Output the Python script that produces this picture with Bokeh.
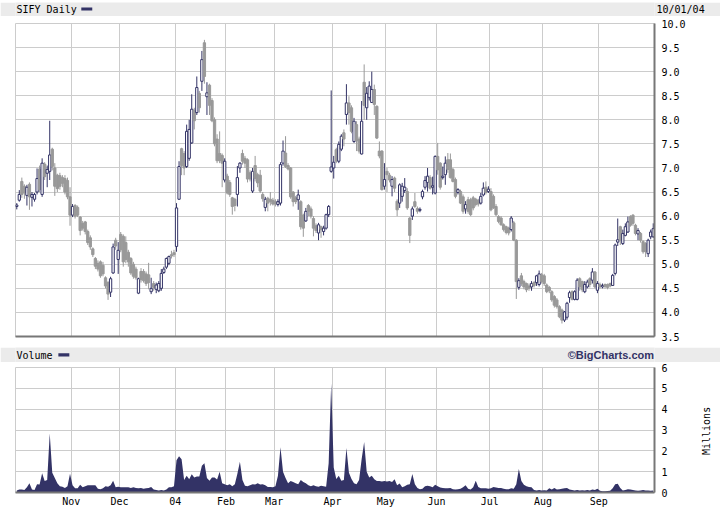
import math
import numpy as np
from bokeh.plotting import figure
from bokeh.layouts import column
from bokeh.models import (Range1d, FixedTicker, PrintfTickFormatter, Label, ColumnDataSource,
                          LinearAxis, Spacer)
from bokeh.embed import file_html
from bokeh.resources import INLINE

# ---------------- data ----------------
month_labels = ["Nov", "Dec", "04", "Feb", "Mar", "Apr", "May", "Jun", "Jul", "Aug", "Sep"]
month_start_idx = [22, 41, 63, 83, 102, 125, 146, 166, 187, 208, 230]
price_ticks = [3.5, 4.0, 4.5, 5.0, 5.5, 6.0, 6.5, 7.0, 7.5, 8.0, 8.5, 9.0, 9.5, 10.0]
vol_ticks = [0, 1, 2, 3, 4, 5, 6]

open_ = [
    6.20, 6.33, 6.72, 6.62, 6.43, 6.66, 6.39, 6.35, 6.50, 6.98,
    6.45, 7.08, 6.89, 6.93, 7.39, 7.00, 6.85, 6.84, 6.80, 6.78,
    6.74, 6.40, 6.02, 6.22, 6.18, 5.98, 5.85, 5.88, 5.68, 5.55,
    5.32, 5.12, 5.02, 5.05, 4.98, 4.72, 4.62, 4.42, 4.82, 5.50,
    5.10, 5.62, 5.58, 5.45, 5.25, 5.12, 5.00, 4.90, 4.40, 4.85,
    4.85, 4.80, 4.78, 4.43, 4.60, 4.48, 4.45, 4.50, 4.83, 4.94,
    5.02, 5.20, 5.24, 5.37, 6.35, 7.40, 7.30, 7.03, 7.20, 7.52,
    8.20, 8.15, 8.55, 8.80, 9.60, 8.48, 8.72, 8.40, 8.00, 7.60,
    7.30, 7.26, 6.75, 6.83, 6.70, 6.38, 6.35, 6.45, 7.00, 7.30,
    7.20, 7.17, 6.90, 6.52, 7.05, 6.86, 6.85, 6.45, 6.18, 6.37,
    6.35, 6.33, 6.30, 6.24, 6.27, 7.10, 7.31, 7.05, 7.00, 6.50,
    6.38, 6.34, 6.30, 6.02, 5.90, 6.22, 6.15, 5.95, 5.80, 5.65,
    5.78, 5.68, 5.75, 6.03, 6.93, 7.00, 7.38, 7.14, 7.39, 7.73,
    8.11, 8.35, 8.25, 7.55, 7.90, 7.60, 7.29, 8.78, 8.25, 8.46,
    8.36, 8.63, 8.28, 7.35, 7.35, 6.62, 6.93, 6.85, 6.62, 6.79,
    6.31, 6.27, 6.41, 6.53, 6.51, 5.96, 6.00, 6.30, 6.16, 6.12,
    6.40, 6.60, 6.70, 6.80, 6.60, 6.48, 7.24, 7.10, 6.80, 6.86,
    7.17, 7.17, 6.97, 6.76, 6.49, 6.51, 6.40, 6.15, 6.34, 6.34,
    6.38, 6.35, 6.33, 6.27, 6.44, 6.60, 6.51, 6.51, 6.41, 6.20,
    5.99, 5.96, 5.82, 5.78, 5.75, 5.72, 5.86, 5.50, 4.52, 4.76,
    4.64, 4.60, 4.55, 4.53, 4.62, 4.62, 4.58, 4.78, 4.76, 4.57,
    4.52, 4.43, 4.33, 4.26, 4.12, 4.05, 3.84, 3.90, 4.31, 4.43,
    4.27, 4.27, 4.70, 4.64, 4.43, 4.53, 4.70, 4.67, 4.84, 4.46,
    4.58, 4.53, 4.58, 4.58, 4.60, 4.56, 4.81, 5.46, 5.78, 5.43,
    5.60, 5.67, 5.99, 6.02, 5.81, 5.63, 5.64, 5.47, 5.43, 5.22,
    5.57, 5.57,
]
high = [
    6.27, 6.54, 6.80, 6.66, 6.65, 6.70, 6.50, 6.48, 6.99, 7.05,
    7.20, 7.12, 7.05, 7.98, 7.42, 7.10, 6.88, 6.90, 6.85, 6.85,
    6.80, 6.60, 6.25, 6.25, 6.22, 6.00, 5.90, 5.90, 5.72, 5.60,
    5.35, 5.15, 5.08, 5.08, 5.05, 4.75, 4.65, 4.74, 5.43, 5.55,
    5.46, 5.67, 5.62, 5.58, 5.30, 5.15, 5.05, 4.95, 4.72, 4.92,
    4.90, 4.85, 5.03, 4.72, 4.65, 4.62, 4.65, 4.90, 4.95, 5.14,
    5.18, 5.28, 5.30, 6.27, 7.14, 7.42, 7.35, 7.90, 8.00, 8.53,
    8.25, 8.90, 8.60, 9.43, 9.66, 8.78, 8.75, 8.45, 8.05, 7.70,
    7.76, 7.30, 7.20, 6.88, 6.75, 6.40, 6.38, 7.04, 7.12, 7.38,
    7.25, 7.20, 6.95, 7.00, 7.25, 6.90, 6.96, 6.50, 6.40, 6.40,
    6.50, 6.38, 6.35, 6.35, 7.12, 7.57, 7.66, 7.10, 7.02, 6.52,
    6.42, 6.55, 6.33, 6.05, 6.17, 6.25, 6.20, 6.00, 5.85, 5.86,
    5.80, 5.80, 6.05, 6.23, 8.61, 7.25, 7.42, 7.55, 7.70, 7.80,
    8.74, 8.49, 8.30, 8.04, 7.97, 7.65, 8.39, 9.15, 8.68, 8.80,
    9.00, 8.73, 8.30, 7.55, 7.37, 7.10, 7.00, 6.90, 6.83, 6.82,
    6.35, 6.68, 6.69, 6.79, 6.58, 5.98, 6.20, 6.48, 6.20, 6.18,
    6.55, 6.83, 7.00, 6.85, 6.82, 7.26, 7.52, 7.12, 7.03, 7.24,
    7.31, 7.30, 7.00, 6.80, 6.58, 6.55, 6.45, 6.31, 6.40, 6.38,
    6.42, 6.38, 6.36, 6.48, 6.70, 6.72, 6.62, 6.58, 6.45, 6.25,
    6.02, 6.00, 5.85, 5.80, 5.78, 6.00, 5.90, 5.52, 4.71, 4.82,
    4.68, 4.62, 4.60, 4.65, 4.65, 4.78, 4.87, 4.82, 4.80, 4.60,
    4.55, 4.46, 4.36, 4.30, 4.15, 4.08, 4.03, 4.22, 4.45, 4.46,
    4.46, 4.71, 4.73, 4.66, 4.65, 4.68, 4.73, 4.92, 4.86, 4.65,
    4.62, 4.60, 4.60, 4.60, 4.62, 4.80, 5.43, 5.95, 5.80, 5.72,
    5.85, 5.99, 6.02, 6.04, 5.84, 5.75, 5.67, 5.50, 5.46, 5.53,
    5.72, 5.85,
]
low = [
    6.14, 6.30, 6.38, 6.36, 6.22, 6.13, 6.20, 6.30, 6.45, 6.50,
    6.40, 6.75, 6.60, 6.75, 6.95, 6.42, 6.50, 6.55, 6.60, 6.45,
    6.35, 5.80, 5.98, 5.95, 5.98, 5.60, 5.70, 5.62, 5.40, 5.30,
    5.15, 4.90, 4.85, 4.72, 4.75, 4.50, 4.26, 4.32, 4.80, 5.30,
    4.80, 5.25, 4.95, 5.02, 4.95, 4.78, 4.70, 4.68, 4.38, 4.62,
    4.62, 4.55, 4.48, 4.38, 4.45, 4.40, 4.42, 4.45, 4.80, 4.90,
    4.98, 5.12, 5.15, 5.26, 6.34, 6.85, 6.85, 7.00, 7.15, 7.50,
    7.80, 8.10, 8.15, 8.60, 8.75, 8.10, 8.10, 7.95, 7.45, 7.10,
    7.10, 6.60, 6.70, 6.45, 6.40, 6.03, 6.10, 6.20, 6.90, 7.07,
    7.00, 6.70, 6.72, 6.48, 6.72, 6.60, 6.48, 6.30, 6.10, 6.10,
    6.22, 6.22, 6.20, 6.20, 6.22, 7.05, 7.00, 6.95, 6.36, 6.20,
    6.25, 6.13, 5.72, 5.57, 5.88, 6.00, 5.95, 5.58, 5.65, 5.50,
    5.55, 5.60, 5.72, 5.98, 6.90, 6.78, 7.10, 7.10, 7.35, 7.45,
    7.90, 7.90, 7.72, 7.52, 7.35, 7.30, 7.28, 8.00, 8.00, 8.40,
    8.35, 8.10, 7.60, 7.20, 6.53, 6.55, 6.50, 6.70, 6.41, 6.50,
    6.00, 6.17, 6.30, 6.48, 6.13, 5.44, 5.92, 6.17, 6.05, 6.08,
    6.35, 6.55, 6.51, 6.55, 6.45, 6.45, 6.86, 6.55, 6.76, 6.65,
    6.90, 6.78, 6.70, 6.37, 6.45, 6.25, 6.05, 6.05, 6.05, 6.00,
    6.12, 6.20, 6.20, 6.24, 6.41, 6.45, 6.48, 6.10, 6.15, 6.00,
    5.85, 5.80, 5.68, 5.62, 5.60, 5.68, 5.48, 4.28, 4.47, 4.55,
    4.48, 4.42, 4.45, 4.45, 4.52, 4.55, 4.54, 4.60, 4.55, 4.40,
    4.40, 4.22, 4.10, 4.08, 3.88, 3.77, 3.80, 3.85, 4.20, 4.25,
    4.25, 4.25, 4.45, 4.42, 4.40, 4.50, 4.52, 4.60, 4.50, 4.40,
    4.50, 4.50, 4.50, 4.48, 4.52, 4.55, 4.77, 5.38, 5.40, 5.40,
    5.58, 5.65, 5.78, 5.80, 5.60, 5.50, 5.45, 5.22, 5.15, 5.15,
    5.52, 5.55,
]
close = [
    6.23, 6.45, 6.45, 6.48, 6.60, 6.40, 6.45, 6.45, 6.78, 6.55,
    7.10, 6.82, 6.97, 7.27, 7.03, 6.62, 6.57, 6.62, 6.68, 6.50,
    6.40, 6.02, 6.20, 6.00, 6.02, 5.70, 5.75, 5.68, 5.45, 5.36,
    5.20, 4.96, 4.90, 4.76, 4.80, 4.55, 4.38, 4.70, 5.36, 5.38,
    5.29, 5.30, 5.05, 5.10, 5.05, 4.82, 4.75, 4.72, 4.70, 4.68,
    4.66, 4.60, 4.62, 4.50, 4.52, 4.57, 4.60, 4.81, 4.90, 5.12,
    5.16, 5.17, 5.20, 6.17, 7.03, 7.05, 7.00, 7.76, 7.80, 8.22,
    7.98, 8.67, 8.25, 9.25, 8.90, 8.56, 8.30, 7.98, 7.50, 7.15,
    7.15, 7.10, 7.14, 6.48, 6.45, 6.20, 6.22, 6.80, 7.10, 7.14,
    7.10, 6.77, 6.77, 6.93, 6.78, 6.69, 6.52, 6.36, 6.35, 6.27,
    6.30, 6.25, 6.25, 6.30, 7.07, 7.35, 7.03, 6.98, 6.40, 6.30,
    6.30, 6.44, 5.78, 5.75, 6.10, 6.10, 6.00, 5.75, 5.70, 5.82,
    5.72, 5.75, 6.03, 6.20, 7.02, 7.12, 7.14, 7.49, 7.66, 7.60,
    8.35, 8.15, 7.76, 7.97, 7.56, 7.35, 7.97, 8.30, 8.55, 8.70,
    8.63, 8.32, 7.62, 7.25, 6.55, 6.76, 6.86, 6.75, 6.76, 6.58,
    6.13, 6.65, 6.62, 6.60, 6.17, 5.60, 6.15, 6.20, 6.10, 6.14,
    6.51, 6.74, 6.83, 6.58, 6.63, 7.24, 6.96, 6.60, 6.83, 7.10,
    6.97, 6.80, 6.72, 6.41, 6.55, 6.27, 6.10, 6.24, 6.10, 6.03,
    6.17, 6.24, 6.25, 6.41, 6.58, 6.49, 6.56, 6.13, 6.17, 6.03,
    5.89, 5.82, 5.72, 5.66, 5.65, 5.96, 5.50, 4.64, 4.66, 4.60,
    4.53, 4.47, 4.50, 4.60, 4.56, 4.76, 4.80, 4.64, 4.60, 4.43,
    4.45, 4.26, 4.15, 4.12, 3.91, 3.84, 4.01, 4.19, 4.41, 4.27,
    4.43, 4.67, 4.53, 4.47, 4.58, 4.63, 4.58, 4.84, 4.53, 4.60,
    4.53, 4.56, 4.54, 4.52, 4.55, 4.77, 5.40, 5.51, 5.50, 5.64,
    5.78, 5.88, 5.81, 5.85, 5.64, 5.70, 5.50, 5.26, 5.26, 5.50,
    5.67, 5.74,
]
volume_m = [
    0.10, 0.15, 0.15, 0.12, 0.25, 0.45, 0.15, 0.12, 0.40, 0.38,
    0.93, 0.55, 0.60, 2.83, 0.95, 0.70, 0.45, 0.30, 0.28, 0.22,
    0.30, 0.90, 0.35, 0.20, 0.20, 0.37, 0.25, 0.30, 0.35, 0.35,
    0.35, 0.35, 0.18, 0.16, 0.20, 0.30, 0.28, 0.35, 0.56, 0.25,
    0.28, 0.25, 0.25, 0.25, 0.25, 0.22, 0.25, 0.22, 0.20, 0.22,
    0.18, 0.20, 0.22, 0.27, 0.15, 0.12, 0.10, 0.12, 0.10, 0.15,
    0.25, 0.25, 0.30, 1.55, 1.74, 1.60, 0.60, 0.80, 0.64, 0.88,
    0.72, 0.77, 0.77, 1.29, 1.40, 0.70, 0.56, 0.72, 0.72, 0.62,
    1.00, 0.45, 0.40, 0.35, 0.40, 0.30, 0.40, 0.90, 1.48, 0.60,
    0.32, 0.30, 0.35, 0.40, 0.38, 0.45, 0.38, 0.40, 0.35, 0.27,
    0.27, 0.25, 0.30, 0.80, 2.17, 1.00, 0.70, 0.45, 0.55, 0.50,
    0.45, 0.40, 0.60, 0.50, 0.45, 0.35, 0.30, 0.35, 0.30, 0.28,
    0.32, 0.30, 0.28, 1.40, 5.23, 1.20, 0.65, 0.80, 0.56, 0.60,
    2.14, 0.95, 0.65, 0.45, 0.40, 0.60, 1.60, 2.42, 1.00, 0.72,
    0.80, 0.64, 0.55, 0.55, 0.53, 0.55, 0.53, 0.55, 0.50, 0.64,
    0.35, 0.43, 0.25, 0.30, 0.37, 0.40, 0.89, 0.40, 0.22, 0.16,
    0.18, 0.30, 0.32, 0.30, 0.25, 0.37, 0.30, 0.24, 0.22, 0.20,
    0.20, 0.22, 0.16, 0.15, 0.16, 0.18, 0.25, 0.35, 0.18, 0.15,
    0.25, 0.56, 0.27, 0.20, 0.20, 0.20, 0.18, 0.20, 0.27, 0.24,
    0.22, 0.22, 0.18, 0.16, 0.16, 0.20, 0.18, 0.40, 1.13, 0.55,
    0.37, 0.30, 0.27, 0.25, 0.12, 0.10, 0.12, 0.10, 0.11, 0.10,
    0.20, 0.15, 0.22, 0.15, 0.16, 0.18, 0.20, 0.22, 0.15, 0.12,
    0.10, 0.12, 0.10, 0.11, 0.10, 0.12, 0.10, 0.15, 0.12, 0.18,
    0.08, 0.06, 0.06, 0.07, 0.08, 0.20, 0.40, 0.42, 0.22, 0.10,
    0.12, 0.16, 0.15, 0.12, 0.10, 0.09, 0.10, 0.12, 0.10, 0.10,
    0.09, 0.10,
]

# ---------------- styles ----------------
NAVY = "#333366"
GRAY = "#999999"
GRID = "#cccccc"
AXIS = "#777777"
BAND = "#ebebeb"
MONO = "DejaVu Sans Mono"

n = len(close)
xs = np.arange(n) + 0.5
is_up = [c > o for o, c in zip(open_, close)]
src = ColumnDataSource(dict(
    x=xs, h=high, l=low,
    top=[max(o, c) for o, c in zip(open_, close)],
    bottom=[min(o, c) for o, c in zip(open_, close)],
    color=[NAVY if u else GRAY for u in is_up],
    fill=["white" if u else GRAY for u in is_up],
))
xr = Range1d(0, n)

FRAME_L, FRAME_R = 15, 656   # page pixel edges of the plot frames


def band_fig(y_top, y_bot, right_text=None):
    """A gray header strip; data coordinates equal page pixels."""
    f = figure(width=720, height=y_bot - y_top,
               x_range=Range1d(FRAME_L, FRAME_R), y_range=Range1d(y_bot, y_top),
               toolbar_location=None, output_backend="svg", tools="",
               min_border_left=FRAME_L, min_border_right=720 - FRAME_R,
               min_border_top=0, min_border_bottom=0,
               x_axis_location=None, y_axis_location=None, outline_line_color=None,
               background_fill_color=BAND, border_fill_color=BAND)
    f.grid.visible = False
    if right_text is not None:
        mid = (y_top + y_bot) / 2
        ax = LinearAxis(ticker=FixedTicker(ticks=[mid]),
                        major_label_overrides={mid: right_text},
                        axis_line_color=None, major_tick_out=0, major_tick_in=0,
                        minor_tick_out=0, minor_tick_in=0, major_label_standoff=2,
                        major_label_text_font=MONO, major_label_text_font_size="10px",
                        major_label_text_color="black")
        f.add_layout(ax, "right")
    return f


# ---- header band (page y 2..16) ----
b1 = band_fig(2, 16, right_text="10/01/04")
b1.quad(left=[81], right=[92], top=[7], bottom=[10], fill_color=NAVY, line_color=None)
b1.add_layout(Label(x=16, y=9, text="SIFY Daily", text_font=MONO, text_font_size="10px",
                    text_baseline="middle", text_align="left", text_color="black"))

# ---- price panel (page y 16..345, frame 23..336) ----
p = figure(width=720, height=329, x_range=xr, y_range=Range1d(3.5, 10.0),
           toolbar_location=None, output_backend="svg", tools="",
           y_axis_location="right", x_axis_location="below",
           min_border_left=FRAME_L, min_border_right=720 - FRAME_R,
           min_border_top=7, min_border_bottom=9,
           outline_line_color=GRID, background_fill_color="white", border_fill_color="white")
p.xaxis.ticker = FixedTicker(ticks=[])
p.xaxis.major_tick_out = 0
p.xaxis.major_tick_in = 0
p.xaxis.minor_tick_out = 0
p.xaxis.major_label_standoff = 0
p.xaxis.axis_line_color = AXIS
p.xaxis.axis_line_width = 2
p.xgrid.ticker = FixedTicker(ticks=month_start_idx)
p.xgrid.grid_line_color = GRID
p.yaxis.ticker = FixedTicker(ticks=price_ticks)
p.yaxis.formatter = PrintfTickFormatter(format="%.1f")
p.yaxis.major_tick_out = 0
p.yaxis.major_tick_in = 0
p.yaxis.minor_tick_out = 0
p.yaxis.minor_tick_in = 0
p.yaxis.major_label_standoff = 7
p.yaxis.major_label_text_font = MONO
p.yaxis.major_label_text_font_size = "10px"
p.yaxis.major_label_text_color = "black"
p.yaxis.axis_line_color = AXIS
p.yaxis.axis_line_width = 2
p.ygrid.grid_line_color = GRID

p.segment(x0="x", y0="l", x1="x", y1="h", line_color="color", line_width=1, source=src)
p.vbar(x="x", width=0.9, top="top", bottom="bottom", fill_color="fill",
       line_color="color", line_width=1, source=src)

# ---- volume header band (page y 347..362) ----
b2 = band_fig(347, 362)
b2.quad(left=[58], right=[69], top=[352.7], bottom=[356], fill_color=NAVY, line_color=None)
b2.add_layout(Label(x=16, y=354.5, text="Volume", text_font=MONO, text_font_size="10px",
                    text_baseline="middle", text_align="left", text_color="black"))
b2.add_layout(Label(x=655.5, y=354.5, text="©BigCharts.com", text_font="Liberation Sans",
                    text_font_size="11px", text_font_style="bold",
                    text_baseline="middle", text_align="right", text_color=NAVY))

# ---- volume panel (page y 362..510, frame 367..492) ----
v = figure(width=720, height=148, x_range=xr, y_range=Range1d(0, 6),
           toolbar_location=None, output_backend="svg", tools="",
           y_axis_location="right", x_axis_location="below",
           min_border_left=FRAME_L, min_border_right=720 - FRAME_R,
           min_border_top=5, min_border_bottom=18,
           outline_line_color=GRID, background_fill_color="white", border_fill_color="white")
v.xaxis.ticker = FixedTicker(ticks=month_start_idx)
v.xaxis.major_label_overrides = {t: lab for t, lab in zip(month_start_idx, month_labels)}
v.xaxis.major_tick_out = 0
v.xaxis.major_tick_in = 0
v.xaxis.minor_tick_out = 0
v.xaxis.major_label_standoff = 3
v.xaxis.major_label_text_font = MONO
v.xaxis.major_label_text_font_size = "10px"
v.xaxis.major_label_text_color = "black"
v.xaxis.axis_line_color = AXIS
v.xaxis.axis_line_width = 2
v.xgrid.grid_line_color = GRID
v.yaxis.ticker = FixedTicker(ticks=vol_ticks)
v.yaxis.major_tick_out = 0
v.yaxis.major_tick_in = 0
v.yaxis.minor_tick_out = 0
v.yaxis.minor_tick_in = 0
v.yaxis.major_label_standoff = 7
v.yaxis.major_label_text_font = MONO
v.yaxis.major_label_text_font_size = "10px"
v.yaxis.major_label_text_color = "black"
v.yaxis.axis_line_color = AXIS
v.yaxis.axis_line_width = 2
v.ygrid.grid_line_color = GRID

# "Millions" unit label, reading bottom-to-top, as a one-tick outer right axis
UNIT_AT = 1.8
unit_axis = LinearAxis(ticker=FixedTicker(ticks=[UNIT_AT]),
                       major_label_overrides={UNIT_AT: "Millions"},
                       major_label_orientation=math.pi / 2, axis_line_color=None,
                       major_tick_out=0, major_tick_in=0, minor_tick_out=0, minor_tick_in=0,
                       major_label_standoff=36, major_label_text_font=MONO,
                       major_label_text_font_size="10px", major_label_text_color="black")
v.add_layout(unit_axis, "right")

v.varea(x=xs, y1=np.zeros(n), y2=volume_m, fill_color=NAVY)

layout = column(Spacer(width=720, height=2), b1, p, Spacer(width=720, height=2), b2, v,
                spacing=0)

open("out.html", "w").write(file_html(layout, INLINE))
